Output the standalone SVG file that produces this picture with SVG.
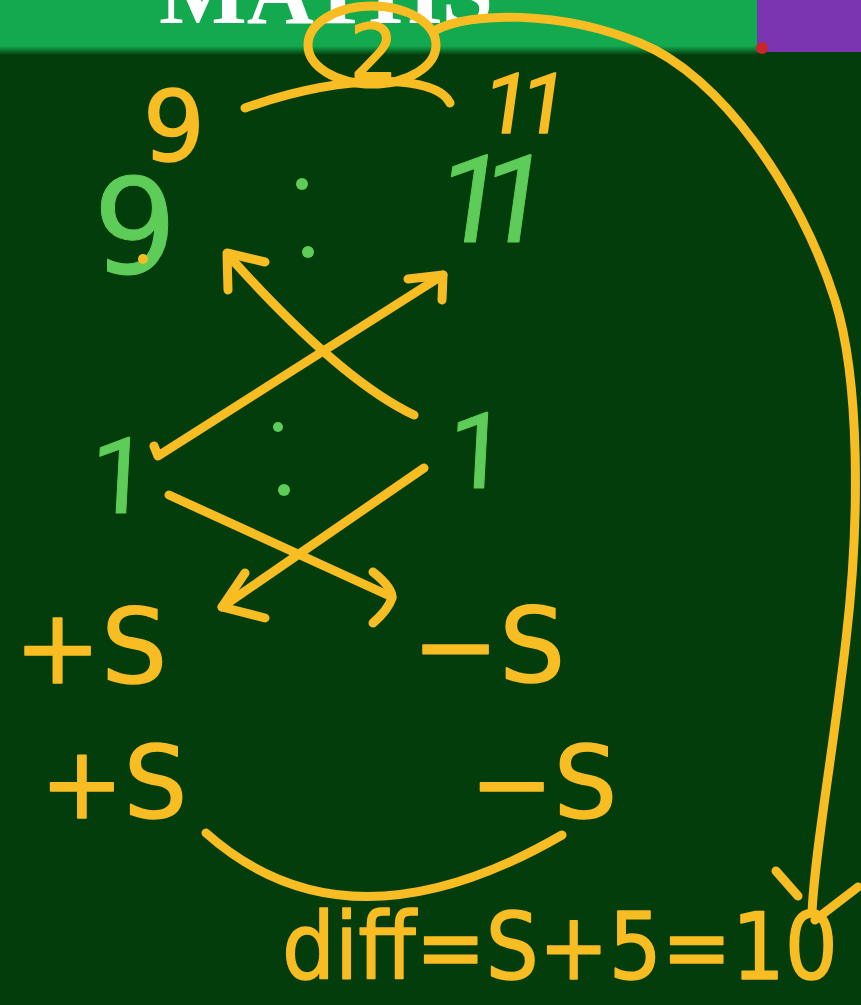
<svg xmlns="http://www.w3.org/2000/svg" width="861" height="1005" viewBox="0 0 861 1005">
<defs>
<style>
.y{fill:none;stroke:#f8bd22;stroke-width:9;stroke-linecap:round;stroke-linejoin:round}
.ty{fill:#f8bd22;stroke:#f8bd22;stroke-width:1.5;stroke-linejoin:round;font-family:"DejaVu Sans",sans-serif}
.tg{fill:#5dcc58;stroke:#5dcc58;stroke-width:1;stroke-linejoin:round;font-family:"DejaVu Sans",sans-serif}
text.one{font-family:Roboto,"Liberation Sans",sans-serif}
.gd{fill:#5dcc58}
</style>
<linearGradient id="edge" x1="0" y1="0" x2="0" y2="1">
<stop offset="0" stop-color="#12a94f"/>
<stop offset="1" stop-color="#033d0b"/>
</linearGradient>
</defs>
<rect width="861" height="1005" fill="#033d0b"/>
<g id="banner">
<rect x="0" y="0" width="757" height="46" fill="#12a94f"/>
<rect x="0" y="46" width="757" height="9" fill="url(#edge)"/>
<rect x="757" y="0" width="104" height="52" fill="#7b35b0"/>
<circle cx="762" cy="48" r="6" fill="#c8262c"/>
<text x="159" y="23" font-family="Liberation Serif,serif" font-weight="bold" font-size="93" fill="#ffffff">MATHS</text>
</g>
<g id="ratio-top">
<text class="ty" x="174" y="161" font-size="98" text-anchor="middle">9</text>
<text class="ty one" transform="translate(480 133) skewX(-8)" x="0" y="0" font-size="84" letter-spacing="-10">11</text>
<ellipse class="y" cx="372" cy="45" rx="64" ry="39"/>
<text class="ty" x="374" y="79" font-size="76" text-anchor="middle">2</text>
</g>
<g id="ratio-green">
<text class="tg" x="135" y="273" font-size="132" text-anchor="middle">9</text>
<circle cx="143" cy="259" r="5" fill="#f8bd22"/>
<circle class="gd" cx="302" cy="184" r="6"/>
<circle class="gd" cx="308" cy="252" r="6"/>
<text class="tg one" transform="translate(432 242) skewX(-8)" x="0" y="0" font-size="122" letter-spacing="-25">11</text>
</g>
<g id="ones">
<text class="tg one" transform="translate(88 513) skewX(-3)" x="0" y="0" font-size="106">1</text>
<circle class="gd" cx="278" cy="427" r="5"/>
<circle class="gd" cx="284" cy="490" r="6"/>
<text class="tg one" transform="translate(446 488) skewX(-3)" x="0" y="0" font-size="106">1</text>
</g>
<g id="s-row1">
<text class="ty" x="14" y="683" font-size="104">+S</text>
<text class="ty" x="412" y="682" font-size="104">−S</text>
</g>
<g id="s-row2">
<text class="ty" x="40" y="818" font-size="100">+S</text>
<text class="ty" x="470" y="818" font-size="100">−S</text>
</g>
<g id="result">
<text class="ty" x="282" y="979" font-size="92" textLength="556" lengthAdjust="spacingAndGlyphs">diff=S+5=10</text>
</g>
<g id="connectors">
<path class="y" d="M245 108 Q330 78 400 82 Q442 86 450 103"/>
<path class="y" d="M436 30 C470 12 560 10 640 43 C720 75 800 190 835 300 C860 380 860 520 846 640 C832 760 815 850 812 912"/>
<path class="y" d="M858 887 L815 920"/>
<path class="y" d="M776 871 L798 896"/>
<path class="y" d="M414 415 Q340 380 228 255"/>
<path class="y" d="M265 262 L227 253 L228 290"/>
<path class="y" d="M443 275 L158 456 L154 446"/>
<path class="y" d="M408 279 L443 275 L442 300"/>
<path class="y" d="M169 495 L392 597"/>
<path class="y" d="M373 572 Q393 588 392 598 Q388 610 373 623"/>
<path class="y" d="M424 468 L222 607"/>
<path class="y" d="M245 573 L222 607 L265 618"/>
<path class="y" d="M206 833 Q348 959 562 835"/>
</g>
</svg>
